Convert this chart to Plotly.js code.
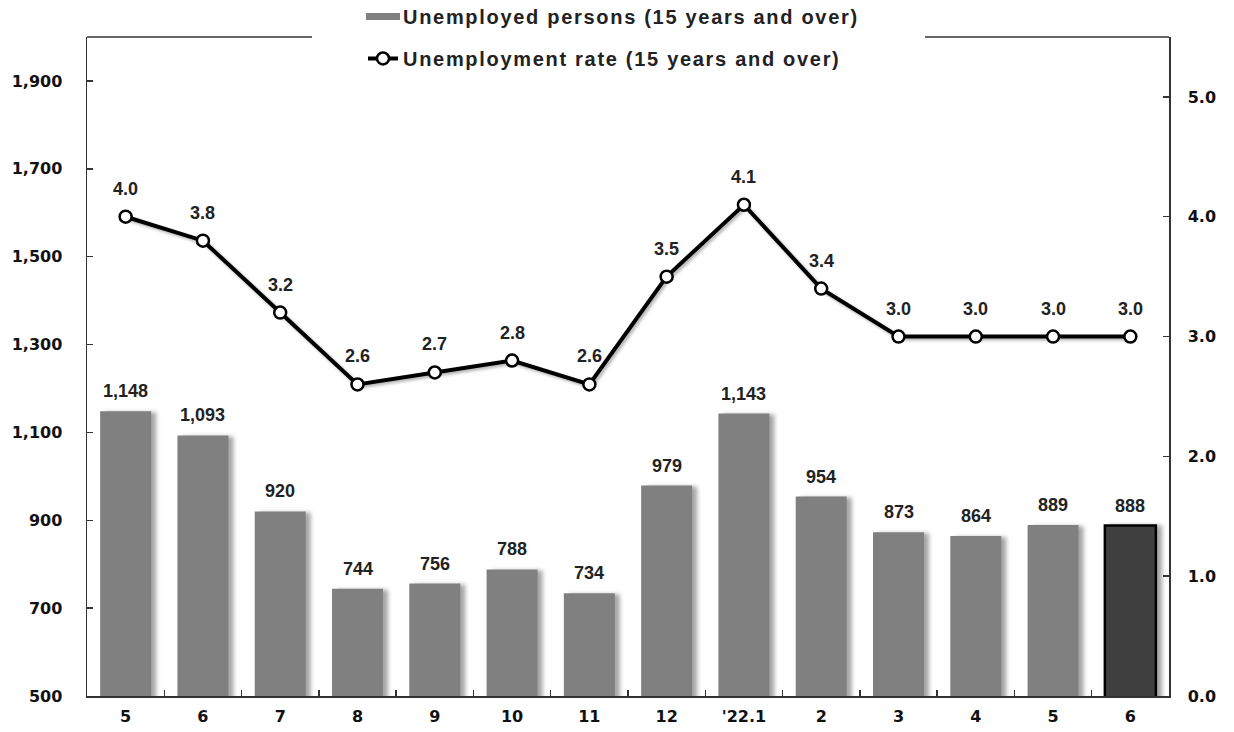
<!DOCTYPE html>
<html>
<head>
<meta charset="utf-8">
<script src="https://cdn.plot.ly/plotly-3.0.1.min.js"></script>
<style>
html,body{margin:0;padding:0;background:#fff;}
#chart{width:1234px;height:732px;}
</style>
</head>
<body>
<div id="chart"></div>
<script>
// Data
const categoryKeys = ["2021-05","2021-06","2021-07","2021-08","2021-09","2021-10","2021-11","2021-12","2022-01","2022-02","2022-03","2022-04","2022-05","2022-06"];
const tickLabels = ["5","6","7","8","9","10","11","12","'22.1","2","3","4","5","6"];
const unemployedPersons = [1148,1093,920,744,756,788,734,979,1143,954,873,864,889,888];
const unemploymentRate = [4.0,3.8,3.2,2.6,2.7,2.8,2.6,3.5,4.1,3.4,3.0,3.0,3.0,3.0];
const leftTicks = [500,700,900,1100,1300,1500,1700,1900];
const rightTicks = [0,1,2,3,4,5];
const seriesNames = ["Unemployed persons (15 years and over)", "Unemployment rate (15 years and over)"];

const FONT = "Liberation Sans, Arial, sans-serif";
const TICKFONT = "DejaVu Sans, sans-serif";
const n = categoryKeys.length;
const barColors = unemployedPersons.map((v,i)=> i===n-1 ? "#404040" : "#808080");
const barLineW = unemployedPersons.map((v,i)=> i===n-1 ? 2.5 : 0);

const traces = [
  {
    type: "bar",
    name: seriesNames[0],
    x: categoryKeys,
    y: unemployedPersons,
    yaxis: "y",
    width: 0.66,
    marker: {color: barColors, line: {color: "#000", width: barLineW}},
    legend: "legend",
    hoverinfo: "x+y"
  },
  {
    type: "scatter",
    mode: "lines+markers",
    name: seriesNames[1],
    x: categoryKeys,
    y: unemploymentRate,
    yaxis: "y2",
    line: {color: "#000", width: 4},
    marker: {symbol: "circle", size: 12, color: "#fff", line: {color: "#000", width: 2.5}},
    legend: "legend2",
    cliponaxis: false
  }
];

const annotations = [];
unemployedPersons.forEach((v,i)=>{
  annotations.push({x: categoryKeys[i], y: v, xref: "x", yref: "y", text: v.toLocaleString("en-US"),
    showarrow: false, yanchor: "middle", yshift: 20, font: {family: FONT, size: 18, color: "#222", weight: "bold"}});
});
unemploymentRate.forEach((v,i)=>{
  annotations.push({x: categoryKeys[i], y: v, xref: "x", yref: "y2", text: v.toFixed(1),
    showarrow: false, yanchor: "middle", yshift: 28, font: {family: FONT, size: 18, color: "#222", weight: "bold"}});
});

const axisFont = {family: TICKFONT, size: 16, color: "#111", weight: "bold"};

const layout = {
  width: 1234, height: 732,
  margin: {l: 87, r: 65, t: 37, b: 36, pad: 0, autoexpand: false},
  paper_bgcolor: "#fff", plot_bgcolor: "#fff",
  showlegend: true,
  xaxis: {
    type: "category",
    tickvals: categoryKeys, ticktext: tickLabels,
    tickson: "boundaries", ticks: "inside", ticklen: 6, tickcolor: "#333", tickwidth: 1.5,
    showline: true, linecolor: "#333", linewidth: 1.5,
    showgrid: false, zeroline: false,
    tickfont: axisFont, ticklabelstandoff: 5,
    range: [-0.5, n-0.5], automargin: false
  },
  yaxis: {
    range: [500, 2000], tickvals: leftTicks, ticktext: leftTicks.map(v=>v.toLocaleString("en-US")),
    ticks: "inside", ticklen: 6, tickcolor: "#333", tickwidth: 1.5,
    showline: true, linecolor: "#333", linewidth: 1.5,
    showgrid: false, zeroline: false,
    tickfont: axisFont, ticklabelstandoff: 20, automargin: false
  },
  yaxis2: {
    overlaying: "y", side: "right",
    range: [0, 5.5], tickvals: rightTicks, ticktext: rightTicks.map(v=>v.toFixed(1)),
    ticks: "inside", ticklen: 6, tickcolor: "#333", tickwidth: 1.5,
    showline: true, linecolor: "#333", linewidth: 1.5,
    showgrid: false, zeroline: false,
    tickfont: axisFont, ticklabelstandoff: 14, automargin: false
  },
  legend: {
    x: (363-87)/1082, xanchor: "left", y: 1 + (37+3)/660, yanchor: "top",
    bgcolor: "rgba(0,0,0,0)", borderwidth: 0,
    font: {family: FONT, size: 20, color: "#222", weight: "bold"},
    itemwidth: 30
  },
  legend2: {
    x: (363-87)/1082, xanchor: "left", y: 1 + (37+3-42)/660, yanchor: "top",
    bgcolor: "rgba(0,0,0,0)", borderwidth: 0,
    font: {family: FONT, size: 20, color: "#222", weight: "bold"},
    itemwidth: 30
  },
  shapes: [
    {type: "line", xref: "paper", yref: "paper", x0: 0, x1: (312-87)/1082, y0: 1, y1: 1, line: {color: "#333", width: 1.5}},
    {type: "line", xref: "paper", yref: "paper", x0: (925-87)/1082, x1: 1, y0: 1, y1: 1, line: {color: "#333", width: 1.5}}
  ],
  annotations: annotations
};

function styleChart(gd){
  gd.querySelectorAll("text").forEach(t=>{
    if (seriesNames.indexOf(t.textContent) >= 0) t.style.letterSpacing = "1.7px";
  });
  gd.querySelectorAll(".scrollbox, [clip-path]").forEach(el=>{
    const cls = el.getAttribute("class") || "";
    if (cls.indexOf("scrollbox") >= 0) el.removeAttribute("clip-path");
  });
  const barSym = gd.querySelector(".legendpoints path");
  if (barSym) barSym.setAttribute("d", "M17,3.5H-17V-3.5H17Z");
  gd.querySelectorAll(".barlayer .point path").forEach(p=>{
    p.style.filter = "drop-shadow(5px 1px 2px rgba(0,0,0,0.35))";
  });
  gd.querySelectorAll(".scatterlayer .js-line").forEach(p=>{
    p.style.filter = "drop-shadow(2px 2px 1.5px rgba(0,0,0,0.3))";
  });
}

Plotly.newPlot("chart", traces, layout, {displayModeBar: false, staticPlot: true}).then(gd=>{
  styleChart(gd);
  setTimeout(()=>styleChart(gd), 50);
});
</script>
</body>
</html>
